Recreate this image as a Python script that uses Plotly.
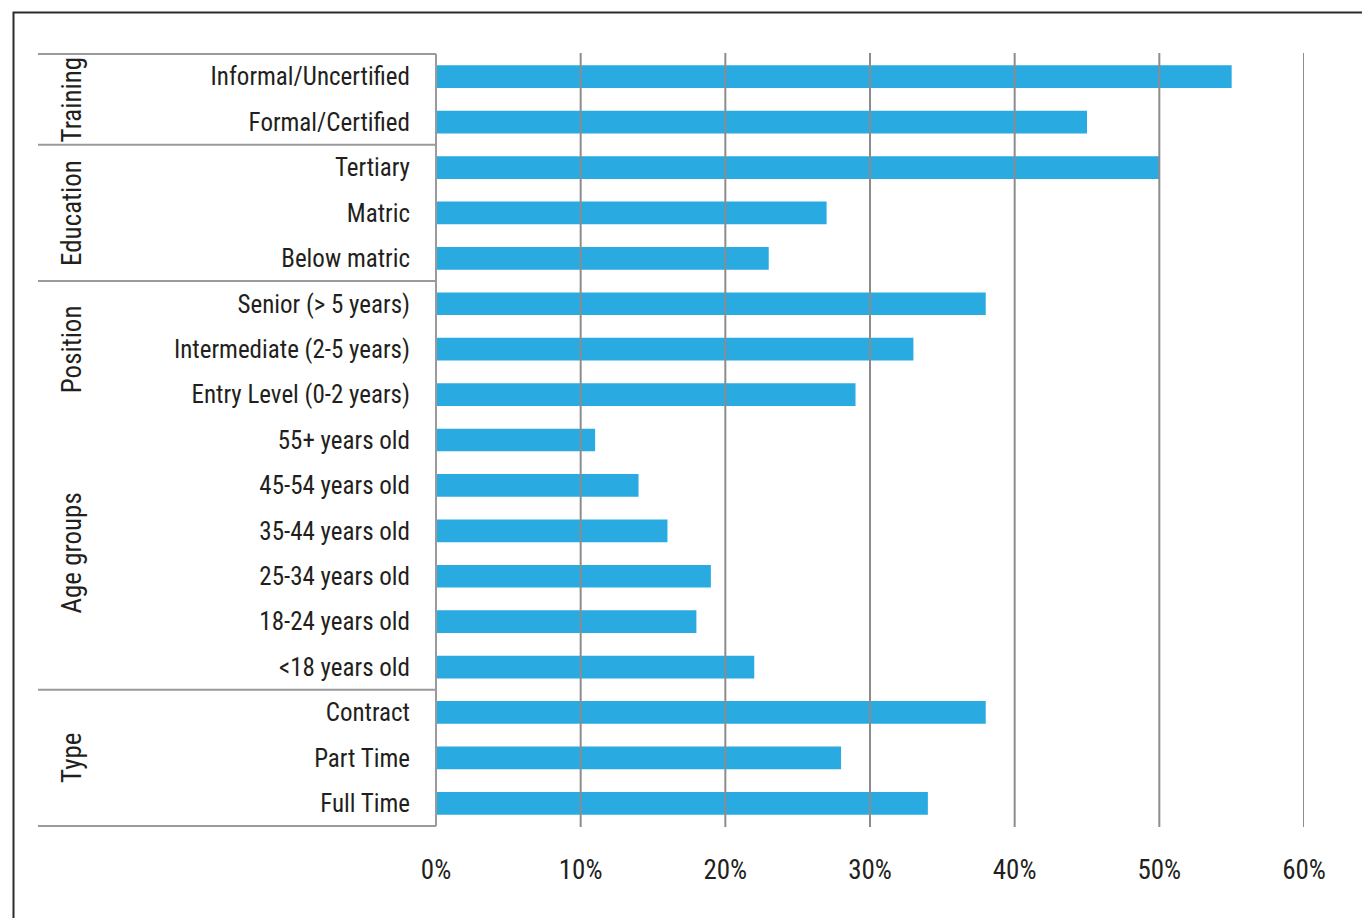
import plotly.graph_objects as go

categories = [
    "Informal/Uncertified", "Formal/Certified",
    "Tertiary", "Matric", "Below matric",
    "Senior (> 5 years)", "Intermediate (2-5 years)", "Entry Level (0-2 years)",
    "55+ years old", "45-54 years old", "35-44 years old", "25-34 years old",
    "18-24 years old", "<18 years old",
    "Contract", "Part Time", "Full Time",
]
values = [55, 45, 50, 27, 23, 38, 33, 29, 11, 14, 16, 19, 18, 22, 38, 28, 34]

groups = ["Training", "Education", "Position", "Age groups", "Type"]
group_sizes = [2, 3, 3, 6, 3]
# separators drawn after these groups (no line between Position and Age groups)
group_has_line_after = [True, True, False, True, True]

x_ticks = [0, 10, 20, 30, 40, 50, 60]
x_ticklabels = ["0%", "10%", "20%", "30%", "40%", "50%", "60%"]

FONT = "Liberation Sans Narrow, Roboto Condensed, Arial Narrow, Open Sans, sans-serif"
TXT = "#231f20"
GRID = "#8c8c8e"
SEP = "#9a9a9c"

W, H = 1362, 918
L, R, T, B = 436, 58, 53, 91
pw, ph = W - L - R, H - T - B

def px_x(px):
    return (px - L) / pw

def px_y(py):
    return (H - B - py) / ph

fig = go.Figure(go.Bar(
    y=categories, x=values, orientation="h",
    marker=dict(color="#29abe2", line=dict(width=0)),
    width=0.5,
))

shapes = []
# gridlines above bars
for t in x_ticks[1:]:
    shapes.append(dict(type="line", xref="x", yref="paper", x0=t, x1=t, y0=0, y1=1,
                       line=dict(color=GRID, width=2), layer="above"))

# group separators and labels
n = len(categories)
left = px_x(38)
shapes.append(dict(type="line", xref="paper", yref="y", x0=left, x1=0, y0=-0.5, y1=-0.5,
                   line=dict(color=SEP, width=2)))
shapes.append(dict(type="line", xref="paper", yref="y", x0=0, x1=0, y0=-0.5, y1=n - 0.5,
                   line=dict(color=SEP, width=2), layer="above"))
annotations = []
start = 0
for g, size, line_after in zip(groups, group_sizes, group_has_line_after):
    end = start + size
    if line_after:
        shapes.append(dict(type="line", xref="paper", yref="y", x0=left, x1=0,
                           y0=end - 0.5, y1=end - 0.5, line=dict(color=SEP, width=2)))
    annotations.append(dict(xref="paper", yref="y", x=px_x(72), y=(start + end - 1) / 2,
                            text=g, textangle=-90, showarrow=False,
                            font=dict(family=FONT, size=27, color=TXT),
                            xanchor="center", yanchor="middle"))
    start = end

# outer frame (top and left edges visible)
shapes.append(dict(type="path", xref="paper", yref="paper",
                   path=f"M {px_x(1450)} {px_y(12.5)} L {px_x(13.5)} {px_y(12.5)} L {px_x(13.5)} {px_y(1000)}",
                   line=dict(color="#2b2b2b", width=2)))

fig.update_layout(
    width=W, height=H,
    margin=dict(l=L, r=R, t=T, b=B),
    paper_bgcolor="white", plot_bgcolor="white",
    showlegend=False,
    bargap=0.5,
    shapes=shapes,
    annotations=annotations,
    font=dict(family=FONT, color=TXT),
)
fig.update_xaxes(range=[0, 60], tickvals=x_ticks, ticktext=x_ticklabels,
                 showgrid=False, zeroline=False, showline=False,
                 ticks="outside", ticklen=19, tickcolor="rgba(0,0,0,0)",
                 tickfont=dict(family=FONT, size=27, color=TXT), fixedrange=True)
fig.update_yaxes(autorange="reversed", showgrid=False, zeroline=False, showline=False,
                 ticks="outside", ticklen=20, tickcolor="rgba(0,0,0,0)",
                 tickfont=dict(family=FONT, size=25, color=TXT), fixedrange=True)

fig.write_html("out.html", config={"displayModeBar": False})
